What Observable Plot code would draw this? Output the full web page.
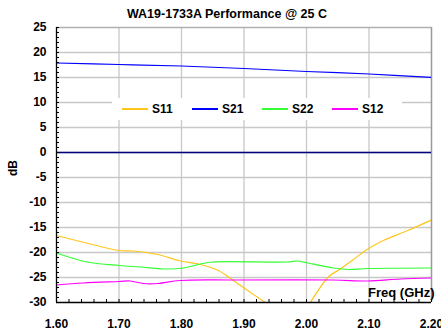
<!DOCTYPE html>
<html><head><meta charset="utf-8">
<script src="https://cdn.jsdelivr.net/npm/d3@7"></script>
<script src="https://cdn.jsdelivr.net/npm/@observablehq/plot@0.6"></script>
<style>
body{margin:0;background:#fff;}
#wrap{position:relative;width:441px;height:333px;overflow:hidden;font-family:Arial,"Liberation Sans",sans-serif;font-weight:bold;color:#000;}
#title{position:absolute;top:7px;left:0;width:454px;text-align:center;font-size:12.5px;line-height:14px;}
#chart{position:absolute;left:0;top:0;}
#legend{position:absolute;left:112px;top:98px;width:290px;height:22px;background:#fff;display:flex;align-items:center;font-size:12px;box-sizing:border-box;padding-left:10px;}
.item{display:flex;align-items:center;width:73.3px;}
.sw{width:26px;height:1.5px;margin-right:4px;}
</style>
</head><body>
<div id="wrap">
<div id="chart"></div>
<div id="title">WA19-1733A Performance @ 25 C</div>
<div id="legend"></div>
</div>
<script>
const seriesNames = ["S11", "S21", "S22", "S12"];
const seriesColors = ["#FFC61A", "#0000FF", "#33FF33", "#FF00FF"];

const s11Freq = [1.60, 1.654, 1.70, 1.723, 1.762, 1.798, 1.830, 1.859, 1.883, 1.906, 1.934, 1.95, 1.97, 1.99, 2.00, 2.006, 2.035, 2.054, 2.075, 2.098, 2.123, 2.162, 2.20];
const s11dB   = [-16.6, -18.3, -19.6, -19.7, -20.4, -21.7, -22.4, -23.6, -25.6, -27.6, -30.0, -31.4, -32.6, -32.8, -31.1, -30.0, -24.9, -23.3, -21.4, -19.3, -17.6, -15.6, -13.5];

const s21Freq = [1.60, 1.70, 1.80, 1.90, 2.00, 2.10, 2.20];
const s21dB   = [17.9, 17.6, 17.3, 16.8, 16.2, 15.7, 15.0];

const s22Freq = [1.60, 1.649, 1.70, 1.734, 1.778, 1.803, 1.830, 1.850, 1.970, 1.986, 2.002, 2.043, 2.066, 2.098, 2.20];
const s22dB   = [-20.1, -21.9, -22.6, -22.9, -23.3, -23.1, -22.3, -21.9, -21.9, -21.7, -22.1, -23.1, -23.4, -23.2, -23.1];

const s12Freq = [1.60, 1.643, 1.70, 1.718, 1.739, 1.762, 1.798, 1.883, 2.043, 2.098, 2.150, 2.20];
const s12dB   = [-26.5, -26.1, -25.8, -25.7, -26.2, -26.2, -25.6, -25.5, -25.5, -25.7, -25.3, -25.1];

const zeroLine = [0];

const xTicks = [1.60, 1.70, 1.80, 1.90, 2.00, 2.10, 2.20];
const yTicks = [25, 20, 15, 10, 5, 0, -5, -10, -15, -20, -25, -30];

const xLabel = "Freq (GHz)";
const yLabel = "dB";

const toRows = (name, fs, vs) => fs.map((f, i) => ({series: name, freq: f, db: vs[i]}));
const freqs = [s11Freq, s21Freq, s22Freq, s12Freq];
const vals = [s11dB, s21dB, s22dB, s12dB];

const xDomain = [xTicks[0], xTicks[xTicks.length - 1]];
const yDomain = [yTicks[yTicks.length - 1], yTicks[0]];
const xMinor = d3.range(0, 31).map(i => +(xDomain[0] + i * 0.02).toFixed(2));
const yMinor = d3.range(yDomain[0], yDomain[1] + 1, 1);

const gridStyle = {stroke: "#c8c8c8", strokeOpacity: 1, strokeWidth: 1.3};

const lineMarks = seriesNames.map((n, i) =>
  Plot.line(toRows(n, freqs[i], vals[i]), {x: "freq", y: "db", stroke: seriesColors[i], strokeWidth: 1.2, curve: "catmull-rom", clip: true})
);

const chart = Plot.plot({
  width: 441, height: 333,
  marginLeft: 56, marginRight: 10, marginTop: 27, marginBottom: 31,
  style: {fontFamily: "Arial, 'Liberation Sans', sans-serif", fontWeight: "bold", fontSize: "12px", color: "#000", background: "transparent"},
  x: {domain: xDomain},
  y: {domain: yDomain},
  marks: [
    Plot.gridX(xTicks.slice(1, -1), gridStyle),
    Plot.gridY(yTicks.slice(1, -1), gridStyle),
    Plot.ruleY([yDomain[1]], {stroke: "#b0b0b0", strokeWidth: 1.3}),
    Plot.ruleX([xDomain[1]], {stroke: "#999999", strokeWidth: 1.5}),
    Plot.ruleY(zeroLine, {stroke: "#000080", strokeWidth: 1.3}),
    ...lineMarks,
    Plot.axisX(xMinor, {anchor: "bottom", tickSize: -3, text: null, label: null}),
    Plot.axisY(yMinor, {anchor: "left", tickSize: -3, text: null, label: null}),
    Plot.axisX(xTicks, {anchor: "bottom", tickSize: 0, tickPadding: 17, tickFormat: d => d.toFixed(2), label: null, fontSize: 12}),
    Plot.axisY(yTicks, {anchor: "left", tickSize: 0, tickPadding: 10, tickFormat: d => String(d), label: null, fontSize: 12}),
    Plot.ruleX([xDomain[0]], {stroke: "#000", strokeWidth: 1.3}),
    Plot.ruleY([yDomain[0]], {stroke: "#000", strokeWidth: 1.3}),
    Plot.text([xLabel], {frameAnchor: "bottom-right", textAnchor: "end", dx: 3, dy: -6, fontSize: 13, fontWeight: "bold", fill: "#000"}),
    Plot.text([yLabel], {frameAnchor: "left", rotate: -90, dx: -43, dy: 11, fontSize: 12, fontWeight: "bold", fill: "#000"})
  ]
});
document.getElementById("chart").appendChild(chart);

const legend = document.getElementById("legend");
seriesNames.forEach((n, i) => {
  const it = document.createElement("div");
  it.className = "item";
  const sw = document.createElement("div");
  sw.className = "sw";
  sw.style.backgroundColor = seriesColors[i];
  const tx = document.createElement("span");
  tx.textContent = n;
  it.appendChild(sw);
  it.appendChild(tx);
  legend.appendChild(it);
});
</script>
</body></html>
